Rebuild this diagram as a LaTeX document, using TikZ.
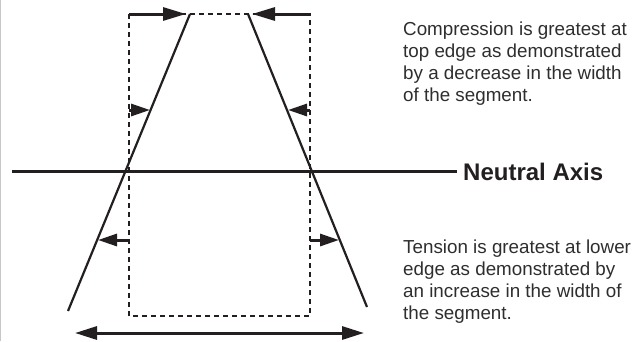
\documentclass[tikz,border=0pt]{standalone}
\usepackage{fontspec}
\setmainfont{Liberation Sans}
\usetikzlibrary{arrows.meta}
\definecolor{ink}{HTML}{231F20}
\definecolor{txt}{HTML}{2E2E2E}
\begin{document}
\begin{tikzpicture}[x=1pt,y=-1pt,
  segline/.style={ink, line width=2.2pt},
  boxline/.style={ink, line width=1.2pt, dash pattern=on 5pt off 4pt},
  forcearrow/.style={ink, line width=3pt, -{Triangle[length=23pt,width=13pt]}},
  sidearrow/.style={ink, line width=3pt, -{Triangle[length=19pt,width=12pt]}},
  widtharrow/.style={ink, line width=3pt, {Triangle[length=22pt,width=13pt]}-{Triangle[length=22pt,width=13pt]}},
  note/.style={txt, anchor=base west, inner sep=0pt, align=left, font=\fontsize{18.8}{22}\selectfont},
  axislabel/.style={ink, anchor=west, inner sep=0pt, font=\fontsize{24}{26}\selectfont\bfseries}]
\useasboundingbox (0,0) rectangle (639,341);
\draw[black!22, line width=1pt] (0.5,0) -- (0.5,341);
% original segment (dashed)
\coordinate (BTL) at (129,14);
\coordinate (BBR) at (310,316);
\draw[boxline] (BTL) rectangle (BBR);
% deformed segment edges
\coordinate (LT) at (190,14);
\coordinate (LB) at (68,311);
\coordinate (RT) at (248,14);
\coordinate (RB) at (367,307);
\draw[segline] (LT) -- (LB);
\draw[segline] (RT) -- (RB);
% neutral axis
\coordinate (AL) at (12,171);
\coordinate (AR) at (457,171);
\draw[ink, line width=3pt] (AL) -- (AR);
\node[axislabel] (axis) at (463,172) {Neutral Axis};
% top arrows
\coordinate (TLs) at (129,14);
\coordinate (TLe) at (186,14);
\coordinate (TRs) at (310,14);
\coordinate (TRe) at (252,14);
\draw[forcearrow] (TLs) -- (TLe);
\draw[forcearrow] (TRs) -- (TRe);
% upper side arrows
\coordinate (ULs) at (129,110);
\coordinate (ULe) at (150,110);
\coordinate (URs) at (310,110);
\coordinate (URe) at (288,110);
\draw[sidearrow] (ULs) -- (ULe);
\draw[sidearrow] (URs) -- (URe);
% lower side arrows
\coordinate (LLs) at (129,240);
\coordinate (LLe) at (98,240);
\coordinate (LRs) at (310,240);
\coordinate (LRe) at (339,240);
\draw[sidearrow] (LLs) -- (LLe);
\draw[sidearrow] (LRs) -- (LRe);
% bottom width arrow
\coordinate (WL) at (75,333);
\coordinate (WR) at (364,333);
\draw[widtharrow] (WL) -- (WR);
% notes (base anchor = baseline of last line)
\node[note] (comp) at (403,101.5) {Compression is greatest at\\top edge as demonstrated\\by a decrease in the width\\of the segment.};
\node[note] (tens) at (403,319.5) {Tension is greatest at lower\\edge as demonstrated by\\an increase in the width of\\the segment.};
\end{tikzpicture}
\end{document}
